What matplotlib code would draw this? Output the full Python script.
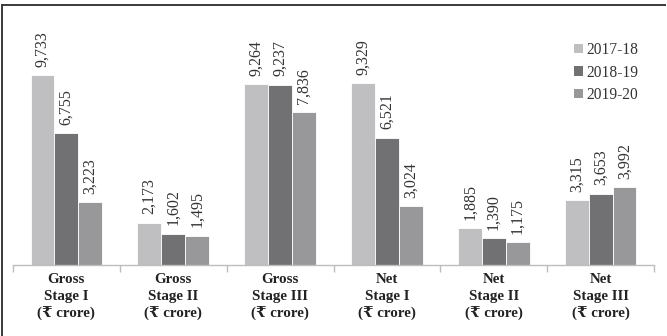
import matplotlib
matplotlib.use("Agg")
import matplotlib.pyplot as plt
from matplotlib.lines import Line2D
from matplotlib.patches import Patch
import numpy as np

categories = ["Gross\nStage I\n(₹ crore)", "Gross\nStage II\n(₹ crore)", "Gross\nStage III\n(₹ crore)",
              "Net\nStage I\n(₹ crore)", "Net\nStage II\n(₹ crore)", "Net\nStage III\n(₹ crore)"]
years = ["2017-18", "2018-19", "2019-20"]
v_2017_18 = [9733, 2173, 9264, 9329, 1885, 3315]
v_2018_19 = [6755, 1602, 9237, 6521, 1390, 3653]
v_2019_20 = [3223, 1495, 7836, 3024, 1175, 3992]
series = [v_2017_18, v_2018_19, v_2019_20]
colors = ["#bfbfc1", "#717174", "#98989b"]

SERIF = ["Liberation Serif", "DejaVu Serif", "DejaVu Sans"]
plt.rcParams["font.family"] = SERIF

W, H = 667, 336
fig = plt.figure(figsize=(W / 100, H / 100), dpi=100)
ax = fig.add_axes([13 / W, 1 - 265 / H, 641 / W, 240 / H])

x = np.arange(len(categories))
bw = 0.224
for i, (vals, c) in enumerate(zip(series, colors)):
    pos = x + (i - 1) * bw
    ax.bar(pos, vals, width=bw, color=c, edgecolor="white", linewidth=0.6, label=years[i])
    for p, v in zip(pos, vals):
        ax.annotate(f"{v:,}", (p, v), xytext=(0, 6), textcoords="offset points",
                    rotation=90, ha="center", va="bottom", fontsize=11.5, color="#333333")

ax.set_xlim(-0.5, len(categories) - 0.5)
ax.set_ylim(0, 12300)
ax.set_yticks([])
for s in ["top", "right", "left"]:
    ax.spines[s].set_visible(False)
ax.spines["bottom"].set_color("#bdbdbd")
ax.spines["bottom"].set_linewidth(1.0)

ax.set_xticks(x)
ax.set_xticklabels(categories, fontsize=10.8, fontweight="bold", color="#222222", linespacing=1.4)
ax.tick_params(axis="x", which="major", length=0, pad=5.5)
ax.set_xticks(np.arange(-0.5, len(categories)), minor=True)
ax.tick_params(axis="x", which="minor", length=5, color="#bdbdbd", width=1.0)

handles = [Patch(facecolor=c, edgecolor="none") for c in colors]
leg = fig.legend(handles, years, loc="upper left", bbox_to_anchor=(574 / W, 1 - 42 / H),
                 frameon=False, fontsize=11.2, handlelength=0.55, handleheight=0.55,
                 handletextpad=0.25, labelspacing=0.42, borderpad=0, borderaxespad=0)
for t in leg.get_texts():
    t.set_color("#333333")

# frame lines along the top and left edges
fig.add_artist(Line2D([2 / W, 665 / W], [1 - 5 / H, 1 - 5 / H], transform=fig.transFigure,
                      color="#3a3a3a", linewidth=1.4))
fig.add_artist(Line2D([2 / W, 2 / W], [0, 1 - 5 / H], transform=fig.transFigure,
                      color="#3a3a3a", linewidth=1.4))

fig.savefig("out.png", dpi=100)
